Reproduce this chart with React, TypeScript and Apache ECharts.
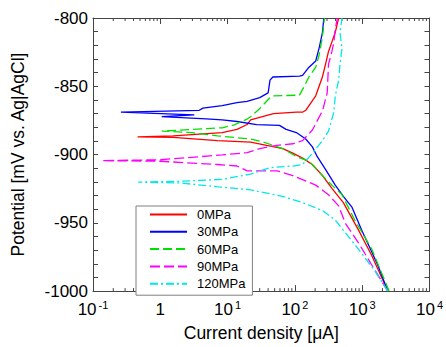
import React, { useEffect, useRef } from "react";
import * as echarts from "echarts";

// [current density (µA), potential (mV vs Ag|AgCl)] in scan order
const curve0MPa: number[][] = [
  [2400, -1000], [1380, -973.7], [875, -955], [525, -935.2], [355, -924.8], [257, -915.4],
  [182, -907.3], [130, -902.6], [93, -899], [66, -895.6], [38, -893.3], [22, -890.9],
  [7.1, -889.8], [1.55, -887.4], [0.46, -887], [1.55, -886.3], [8.3, -883.9], [13.8, -881.6],
  [19.5, -878], [22, -874.6], [48, -870], [105, -869], [130, -869], [145, -867.6],
  [204, -857], [229, -850], [257, -843], [285, -834], [316, -824.5], [355, -817.5],
  [398, -810.5], [447, -800],
];
const curve30MPa: number[][] = [
  [2400, -1000], [1698, -980.7], [977, -955], [708, -938.7], [525, -930.6], [398, -922.4],
  [285, -910.8], [214, -901.4], [182, -894.4], [145, -888.6], [105, -883.9], [74, -881.6],
  [59, -878.6], [27, -878.1], [13.8, -875.8], [8.3, -874.6], [4.8, -873.9], [1.05, -872.3],
  [3.2, -871], [0.26, -868.9], [3.8, -867.6], [4.3, -866], [8.3, -864.1], [13.8, -862],
  [19.5, -861], [30, -858.3], [40, -854.8], [42.7, -845.5], [47, -843.2], [117, -842.5],
  [130, -842], [162, -836], [204, -831.5], [229, -822], [257, -810.5], [269, -800],
];
const curve60MPa: number[][] = [
  [2512, -1000], [1380, -969], [776, -948], [501, -929.4], [316, -920], [257, -915.4],
  [162, -904.9], [105, -901.4], [66, -895.6], [34, -890.9], [22, -888.6], [7.1, -886.3],
  [3.0, -884], [1.05, -882.8], [8.3, -880.4], [12.3, -878.5], [19.5, -874], [22, -872.3],
  [30, -866.4], [42.7, -858.3], [47, -857], [117, -856.5], [138, -850], [162, -843],
  [204, -836], [229, -827], [250, -817], [262, -810], [275, -800],
];
const curve90MPa: number[][] = [
  [2399, -1000], [1380, -980.7], [871, -964.3], [562, -950.3], [447, -937.6], [316, -929.4],
  [204, -922.4], [93, -915.4], [54, -911.9], [19.5, -911.9], [13.8, -908.4], [7.1, -907.3],
  [1.0, -904.9], [0.135, -904.5], [1.0, -903.8], [5.4, -901], [8.3, -900.3], [19.5, -898.6],
  [30, -895.6], [54, -893.3], [93, -892.1], [130, -889.8], [182, -882], [257, -868],
  [302, -854.8], [316, -833.8], [355, -824.5], [380, -817.5], [398, -808.2], [427, -800],
];
const curve120MPa: number[][] = [
  [2399, -1000], [1549, -985.3], [871, -969], [562, -957.3], [398, -948], [257, -941],
  [130, -935.2], [66, -930.6], [22, -925.9], [7.1, -923.6], [1.95, -920.8], [0.47, -920.2],
  [1.95, -919.6], [8.3, -918.2], [22, -914.3], [42.7, -909.6], [93, -908.4], [130, -907.3],
  [182, -899], [257, -889.8], [316, -882.8], [380, -868.8], [398, -857.1], [447, -845.5],
  [468, -833.8], [501, -822.2], [468, -810.5], [501, -800],
];

const seriesNames = ["0MPa", "30MPa", "60MPa", "90MPa", "120MPa"];
const seriesData = [curve0MPa, curve30MPa, curve60MPa, curve90MPa, curve120MPa];
const seriesColors = ["#ff0000", "#0000ff", "#00e000", "#ff00ff", "#00e8e8"];
const seriesDash: any[] = ["solid", "solid", [9, 4], [10, 4], [8, 3, 2, 3]];

const xMin = 0.1;
const xMax = 10000;
const decades = [0.1, 1, 10, 100, 1000];
const minorMultipliers = [2, 3, 4, 5, 6, 7, 8, 9];
const yMin = -1000;
const yMax = -800;
const yStep = 50;

const FONT = "'Liberation Sans', Arial, sans-serif";

export default function App() {
  const ref = useRef<HTMLDivElement>(null);
  useEffect(() => {
    if (!ref.current) return;
    const chart = echarts.init(ref.current, undefined, { renderer: "svg" });
    const axisColor = "#444";
    const xLabelFormatter = (v: number) => {
      const e = Math.round(Math.log10(v));
      if (e === 0) return "1";
      return "10{s|" + (e < 0 ? "-" : "") + Math.abs(e) + "}";
    };
    const minorTickData: number[][] = [];
    decades.forEach((d) => minorMultipliers.forEach((m) => minorTickData.push([d * m, yMin])));

    chart.setOption({
      animation: false,
      backgroundColor: "#fff",
      textStyle: { fontFamily: FONT },
      grid: { left: 93, right: 10, top: 18, bottom: 43 },
      legend: {
        left: 136,
        top: 206,
        orient: "vertical",
        padding: [2, 7, 5, 13],
        itemGap: 4.3,
        itemWidth: 37,
        itemHeight: 12,
        borderColor: "#808080",
        borderWidth: 1,
        borderRadius: 0,
        backgroundColor: "#fff",
        itemStyle: { opacity: 0 },
        textStyle: { fontFamily: FONT, fontSize: 13, color: "#000", padding: [0, 0, 0, 5] },
        data: seriesNames,
      },
      xAxis: [
        {
          type: "log",
          logBase: 10,
          min: xMin,
          max: xMax,
          name: "Current density [\u03bcA]",
          nameLocation: "middle",
          nameGap: 27,
          nameTextStyle: { fontFamily: FONT, fontSize: 17.5, color: "#000" },
          axisLine: { show: true, lineStyle: { color: axisColor, width: 1 } },
          axisTick: { show: true, inside: true, length: 6, lineStyle: { color: axisColor } },
          minorTick: { show: false },
          splitLine: { show: false },
          axisLabel: {
            formatter: xLabelFormatter,
            margin: 8,
            color: "#000",
            fontSize: 17,
            fontFamily: FONT,
            lineHeight: 20,
            rich: { s: { fontSize: 11, verticalAlign: "top", lineHeight: 11, padding: [0, 0, 0, 2], fontFamily: FONT, color: "#000" } },
          },
        },
        {
          type: "log",
          logBase: 10,
          min: xMin,
          max: xMax,
          position: "top",
          axisLine: { show: true, lineStyle: { color: axisColor, width: 1 } },
          axisTick: { show: true, inside: true, length: 6, lineStyle: { color: axisColor } },
          minorTick: { show: false },
          splitLine: { show: false },
          axisLabel: { show: false },
        },
      ],
      yAxis: [
        {
          type: "value",
          min: yMin,
          max: yMax,
          interval: yStep,
          name: "Potential [mV vs. Ag|AgCl]",
          nameLocation: "middle",
          nameGap: 66,
          nameTextStyle: { fontFamily: FONT, fontSize: 17.5, color: "#000" },
          axisLine: { show: true, lineStyle: { color: axisColor, width: 1 } },
          axisTick: { show: true, inside: true, length: 5, lineStyle: { color: axisColor } },
          minorTick: { show: true, splitNumber: 5, length: 5, lineStyle: { color: axisColor } },
          splitLine: { show: false },
          axisLabel: { color: "#000", fontSize: 17, fontFamily: FONT, margin: 5, formatter: (v: number) => String(v) },
        },
        {
          type: "value",
          min: yMin,
          max: yMax,
          interval: yStep,
          position: "right",
          axisLine: { show: true, lineStyle: { color: axisColor, width: 1 } },
          axisTick: { show: true, inside: true, length: 5, lineStyle: { color: axisColor } },
          minorTick: { show: true, splitNumber: 5, length: 5, lineStyle: { color: axisColor } },
          splitLine: { show: false },
          axisLabel: { show: false },
        },
      ],
      series: [
        ...seriesNames.map((name, i) => ({
          name,
          type: "line",
          xAxisIndex: 0,
          yAxisIndex: 0,
          data: seriesData[i],
          symbol: "none",
          showSymbol: false,
          clip: true,
          color: seriesColors[i],
          lineStyle: { color: seriesColors[i], width: 1.3, type: seriesDash[i] },
          emphasis: { disabled: true },
        })),
        {
          name: "minorTicks",
          type: "custom",
          xAxisIndex: 0,
          yAxisIndex: 0,
          silent: true,
          clip: false,
          data: minorTickData,
          encode: { x: 0, y: 1 },
          renderItem: (params: any, api: any) => {
            const v = api.value(0);
            const b = api.coord([v, yMin]);
            const t = api.coord([v, yMax]);
            const style = { stroke: axisColor, lineWidth: 1 };
            return {
              type: "group",
              children: [
                { type: "line", shape: { x1: b[0], y1: b[1], x2: b[0], y2: b[1] - 3 }, style },
                { type: "line", shape: { x1: t[0], y1: t[1], x2: t[0], y2: t[1] + 3 }, style },
              ],
            };
          },
        },
      ],
    });
    return () => chart.dispose();
  }, []);
  return (
    <div
      ref={ref}
      style={{ position: "absolute", left: 0, top: 0, width: 446, height: 347 }}
    />
  );
}
